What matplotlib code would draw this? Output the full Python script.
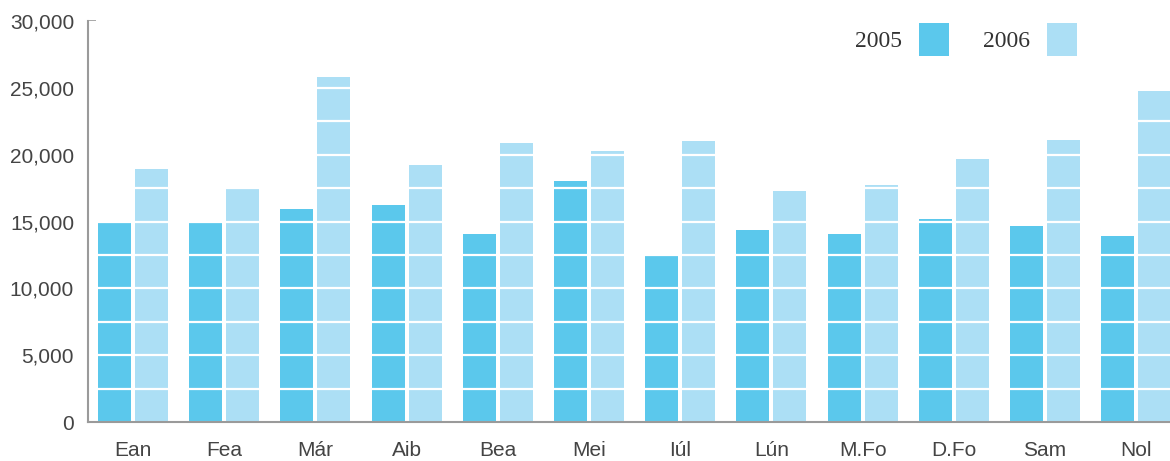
import numpy as np
import matplotlib.pyplot as plt
from matplotlib.ticker import MultipleLocator, FuncFormatter

# data
months = ['Ean', 'Fea', 'Már', 'Aib', 'Bea', 'Mei', 'Iúl', 'Lún', 'M.Fo', 'D.Fo', 'Sam', 'Nol']
y2005 = [15000, 15000, 15900, 16200, 14100, 18000, 12500, 14400, 14100, 15200, 14700, 13900]
y2006 = [18900, 17400, 25800, 19200, 20900, 20300, 21000, 17300, 17700, 19700, 21100, 24800]

c2005 = '#5BC8EC'
c2006 = '#ACDFF5'
grey = '#9a9a9a'
txt = '#444444'

plt.rcParams['font.family'] = ['Liberation Sans', 'DejaVu Sans']

fig = plt.figure(figsize=(11.7, 4.61), dpi=100)
ax = fig.add_axes([88 / 1170, 1 - 422 / 461, 1 - 88 / 1170, (422 - 21) / 461])

x = np.arange(len(months))
w = 0.362
off = 0.203
ax.bar(x - off, y2005, w, color=c2005, zorder=1, label='2005')
ax.bar(x + off, y2006, w, color=c2006, zorder=1, label='2006')

# white lines cut through the bars every 2,500
for yy in np.arange(2500, 30001, 2500):
    ax.axhline(yy, color='white', lw=1.6, zorder=2)

ax.set_xlim(-0.493, 11.37)
ax.set_ylim(0, 30000)

for s in ['top', 'right']:
    ax.spines[s].set_visible(False)
for s in ['left', 'bottom']:
    ax.spines[s].set_color(grey)
    ax.spines[s].set_linewidth(1.5)
    ax.spines[s].set_zorder(3)

ax.yaxis.set_major_locator(MultipleLocator(5000))
ax.yaxis.set_minor_locator(MultipleLocator(2500))
ax.yaxis.set_major_formatter(FuncFormatter(lambda v, p: f'{int(v):,}'))
ax.tick_params(axis='y', which='both', direction='in', length=5.5, width=1.2,
               color=grey, labelsize=15, labelcolor=txt, pad=10)
ax.set_xticks(x)
ax.set_xticklabels(months)
ax.tick_params(axis='x', length=0, labelsize=15, labelcolor=txt, pad=14)

leg = ax.legend(loc='upper right', bbox_to_anchor=(0.914, 0.995), ncol=2,
                markerfirst=False, frameon=False, borderpad=0, borderaxespad=0,
                handlelength=1.27, handleheight=1.77,
                handletextpad=0.72, columnspacing=1.44,
                prop={'family': ['Liberation Serif', 'DejaVu Serif'], 'size': 17})
for t in leg.get_texts():
    t.set_color('#333333')

fig.savefig('out.png', dpi=100)
